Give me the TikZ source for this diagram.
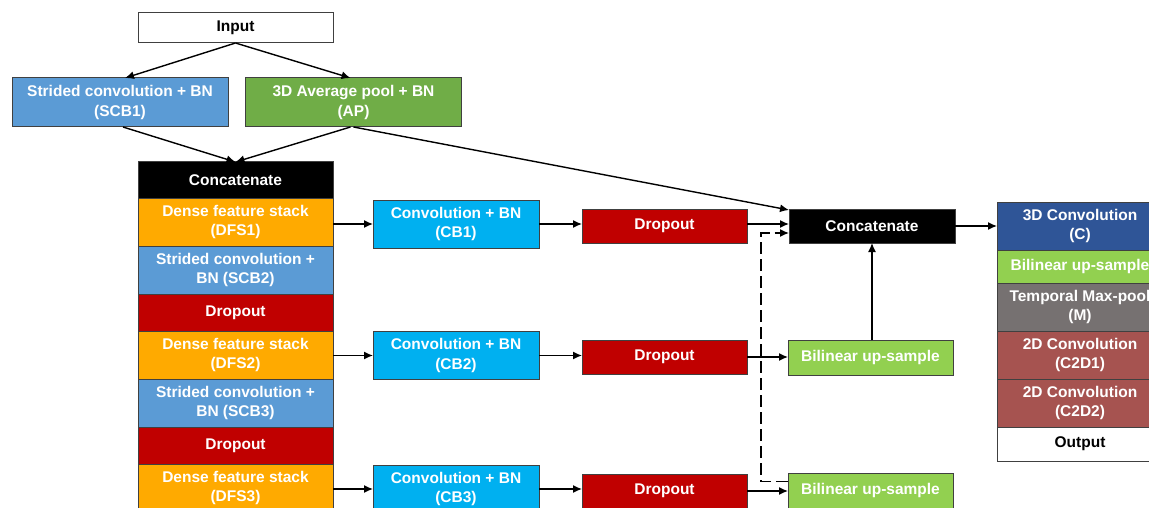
\documentclass[tikz,border=0pt]{standalone}
\usepackage{fontspec}
\setmainfont{Liberation Sans}
\usetikzlibrary{
  arrows.meta,
  positioning,
}
\definecolor{scbblue}{RGB}{91, 155, 213}
\definecolor{apgreen}{RGB}{112, 173, 71}
\definecolor{dfsorange}{RGB}{255, 170, 0}
\definecolor{dropred}{RGB}{192, 0, 0}
\definecolor{cbcyan}{RGB}{0, 176, 240}
\definecolor{bilgreen}{RGB}{146, 208, 80}
\definecolor{convblue}{RGB}{47, 85, 151}
\definecolor{tmpgray}{RGB}{118, 113, 113}
\definecolor{ctwored}{RGB}{166, 83, 80}
\tikzstyle{block} = [
  draw=black!75,
  line width=1pt,
  text=white,
  font=\bfseries\fontsize{15.5}{19.5}\selectfont,
  align=center,
  inner sep=0pt,
  outer sep=0pt,
  minimum width=166pt,
  minimum height=34pt,
]
\tikzstyle{wide} = [minimum width=195pt]
\tikzstyle{tall} = [minimum height=48pt]
\tikzstyle{arrow} = [
  -{Latex[length=9pt,width=8pt]},
  line width=1.4pt,
  black,
]

\begin{document}
\begin{tikzpicture}[x=1pt, y=-1pt]

        \useasboundingbox (0,0) rectangle (1149,508);
        \clip (0,0) rectangle (1149,508);

        %% input branch
        \node [block, wide, text=black, fill=white, minimum height=30pt] (inp) at (235.5, 28) {Input};
        \node [block, fill=scbblue, minimum width=216pt, minimum height=49pt] (scb1) at (120, 102.5) {Strided convolution + BN\\(SCB1)};
        \node [block, fill=apgreen, minimum width=216pt, minimum height=49pt] (ap) at (353.5, 102.5) {3D Average pool + BN\\(AP)};

        %% encoder stack
        \node [block, wide, fill=black, minimum height=36pt] (cat1) at (235.5, 180) {Concatenate};
        \node [block, wide, tall, fill=dfsorange, below=0pt of cat1] (dfs1) {Dense feature stack\\(DFS1)};
        \node [block, wide, tall, fill=scbblue, below=0pt of dfs1] (scb2) {Strided convolution +\\BN (SCB2)};
        \node [block, wide, fill=dropred, minimum height=37pt, below=0pt of scb2] (dropa) {Dropout};
        \node [block, wide, tall, fill=dfsorange, below=0pt of dropa] (dfs2) {Dense feature stack\\(DFS2)};
        \node [block, wide, tall, fill=scbblue, below=0pt of dfs2] (scb3) {Strided convolution +\\BN (SCB3)};
        \node [block, wide, fill=dropred, minimum height=37pt, below=0pt of scb3] (dropb) {Dropout};
        \node [block, wide, tall, fill=dfsorange, below=0pt of dropb] (dfs3) {Dense feature stack\\(DFS3)};

        %% side branches
        \node [block, tall, fill=cbcyan] (cb1) at (456, 224) {Convolution + BN\\(CB1)};
        \node [block, tall, fill=cbcyan] (cb2) at (456, 355.5) {Convolution + BN\\(CB2)};
        \node [block, tall, fill=cbcyan] (cb3) at (456, 489) {Convolution + BN\\(CB3)};

        \node [block, fill=dropred, minimum width=165pt] (drop1) at (664.5, 226) {Dropout};
        \node [block, fill=dropred, minimum width=165pt] (drop2) at (664.5, 357) {Dropout};
        \node [block, fill=dropred, minimum width=165pt] (drop3) at (664.5, 491) {Dropout};

        \node [block, fill=black] (cat2) at (872, 226) {Concatenate};
        \node [block, fill=bilgreen, minimum width=165pt, minimum height=35pt] (bil1) at (870.5, 357.5) {Bilinear up-sample};
        \node [block, fill=bilgreen, minimum width=165pt, minimum height=35pt] (bil2) at (870.5, 490.5) {Bilinear up-sample};

        %% decoder stack
        \node [block, tall, fill=convblue] (conv) at (1080, 226) {3D Convolution\\(C)};
        \node [block, fill=bilgreen, minimum height=33pt, below=0pt of conv] (bil3) {Bilinear up-sample};
        \node [block, tall, fill=tmpgray, below=0pt of bil3] (tmp) {Temporal Max-pool\\(M)};
        \node [block, tall, fill=ctwored, below=0pt of tmp] (ctwo1) {2D Convolution\\(C2D1)};
        \node [block, tall, fill=ctwored, below=0pt of ctwo1] (ctwo2) {2D Convolution\\(C2D2)};
        \node [block, text=black, fill=white, below=0pt of ctwo2] (out) {Output};

        %% connectors
        \draw [arrow] (inp.south) -- ([xshift=5pt]scb1.north);
        \draw [arrow] (inp.south) -- ([xshift=-3pt]ap.north);
        \draw [arrow] ([xshift=3pt]scb1.south) -- (cat1.north);
        \draw [arrow] ([xshift=-3pt]ap.south) -- (cat1.north);
        \draw [arrow] (ap.south) -- ([yshift=-1pt]cat2.north west);

        \foreach \i in {1,2,3} {
          \draw [arrow] (dfs\i.east |- cb\i.west) -- (cb\i.west);
          \draw [arrow] (cb\i.east) -- (cb\i.east -| drop\i.west);
        }

        \draw [arrow] ([yshift=2pt]drop1.east) -- ([yshift=2pt]drop1.east -| cat2.west);
        \draw [arrow] (drop2.east) -- (drop2.east -| bil1.west);
        \draw [arrow] (drop3.east) -- (drop3.east -| bil2.west);
        \draw [arrow] (bil1.north -| cat2.south) -- (cat2.south);
        \draw [arrow, dash pattern=on 12pt off 5pt] ([yshift=9pt]bil2.west) -- ++(-27,0) |- ([yshift=-7pt]cat2.west);
        \draw [arrow] (cat2.east) -- (cat2.east -| conv.west);
      \end{tikzpicture}
\end{document}
